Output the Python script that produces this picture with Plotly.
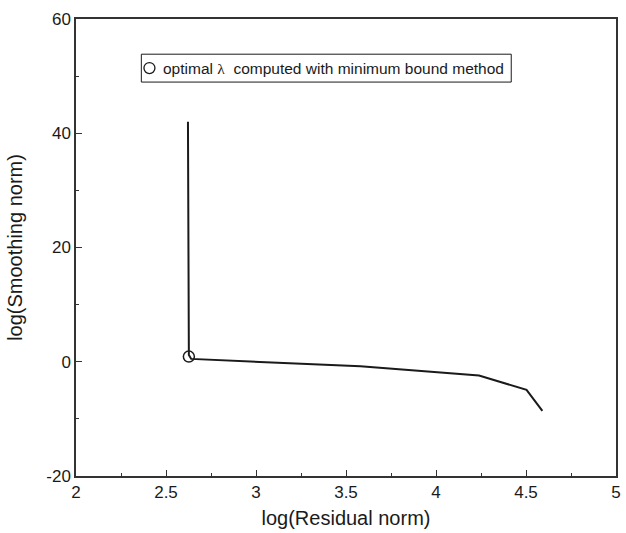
import plotly.graph_objects as go

# L-curve: log residual norm vs log smoothing norm
residual_log = [2.622, 2.623, 2.627, 2.64, 3.58, 4.239, 4.503, 4.591]
smoothing_log = [42.0, 8.0, 1.2, 0.5, -0.8, -2.42, -4.92, -8.6]

# optimal regularisation point from the minimum bound method
opt_x = [2.627]
opt_y = [0.9]

x_ticks = [2, 2.5, 3, 3.5, 4, 4.5, 5]
y_ticks = [-20, 0, 20, 40, 60]

FONT = "Liberation Sans, Arial, sans-serif"
INK = "#1a1a1a"

fig = go.Figure()
fig.add_trace(go.Scatter(
    x=residual_log, y=smoothing_log, mode="lines",
    line=dict(color=INK, width=2), showlegend=False,
))
fig.add_trace(go.Scatter(
    x=opt_x, y=opt_y, mode="markers", showlegend=False,
    marker=dict(symbol="circle-open", size=11, color=INK, line=dict(width=1.5)),
))

axis_common = dict(
    showgrid=False, zeroline=False, showline=True, linecolor="#333333", linewidth=1.5,
    ticks="inside", ticklen=6, tickwidth=1.2, tickcolor="#333333",
    tickfont=dict(family=FONT, size=17, color=INK),
    mirror=True,
)

fig.update_xaxes(
    range=[2, 5], tickvals=x_ticks, ticktext=[str(v) for v in x_ticks],
    minor=dict(ticks="inside", ticklen=3, dtick=0.25, tickcolor="#333333"),
    title=dict(text="log(Residual norm)", font=dict(family=FONT, size=20, color=INK), standoff=10),
    **axis_common,
)
fig.update_yaxes(
    range=[-20, 60], tickvals=y_ticks, ticktext=[str(v) for v in y_ticks],
    minor=dict(ticks="inside", ticklen=3, dtick=10, tickcolor="#333333"),
    title=dict(text="log(Smoothing norm)", font=dict(family=FONT, size=20, color=INK), standoff=18),
    **axis_common,
)

# key box: frame, open-circle symbol and description
fig.add_shape(
    type="rect", xref="paper", yref="paper",
    x0=0.121, x1=0.806, y0=0.862, y1=0.923,
    line=dict(color=INK, width=1), fillcolor="white", layer="above",
)
fig.add_shape(
    type="circle", xref="paper", yref="paper",
    xsizemode="pixel", ysizemode="pixel",
    xanchor=0.136, yanchor=0.8927, x0=-5.5, x1=5.5, y0=-5.5, y1=5.5,
    line=dict(color=INK, width=1.3), layer="above",
)
fig.add_annotation(
    xref="paper", yref="paper", x=0.158, y=0.8927, xanchor="left", yanchor="middle",
    showarrow=False,
    text="optimal <span style=\"font-family:'Liberation Serif'\">\u03bb</span>  computed with minimum bound method",
    font=dict(family=FONT, size=15.5, color=INK),
)

fig.update_layout(
    width=626, height=533,
    margin=dict(l=76, r=5, t=19, b=57),
    plot_bgcolor="white", paper_bgcolor="white",
)

fig.write_html("out.html")
